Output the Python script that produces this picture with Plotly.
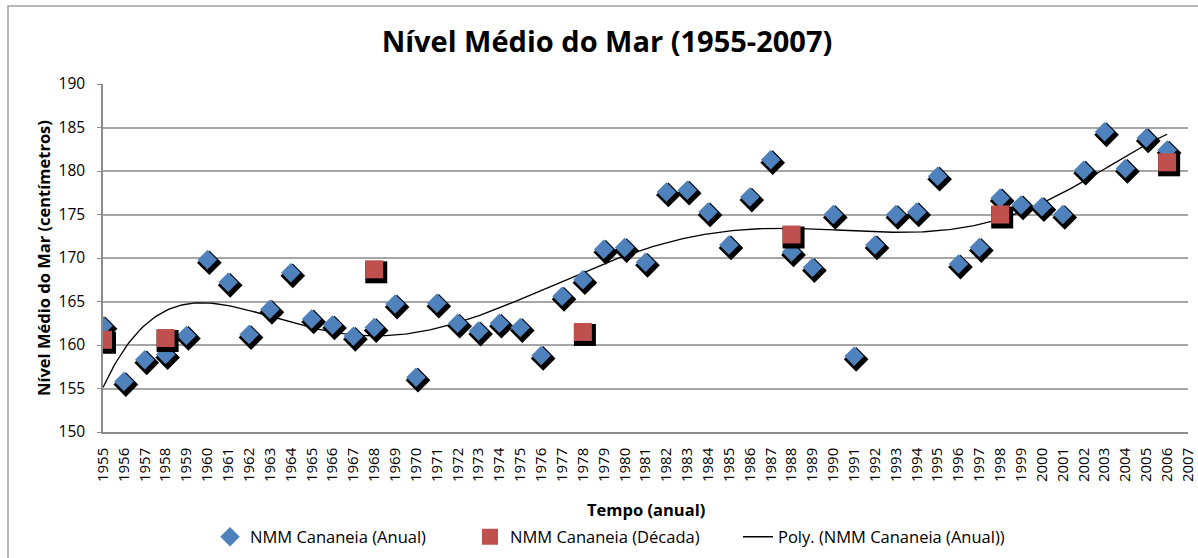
import numpy as np
import plotly.graph_objects as go

# ---------------- data ----------------
years = list(range(1955, 2007))
nmm_anual = [162.2, 155.8, 158.3, 158.9, 161.1, 169.8, 167.2, 161.2, 164.1, 168.3,
             163.0, 162.3, 161.0, 162.0, 164.7, 156.3, 164.8, 162.5, 161.6, 162.5,
             162.0, 158.8, 165.6, 167.5, 171.0, 171.2, 169.5, 177.6, 177.8, 175.3,
             171.5, 177.0, 181.3, 170.7, 168.9, 175.0, 158.7, 171.5, 175.0, 175.3,
             179.4, 169.3, 171.2, 176.9, 176.1, 175.9, 175.0, 180.1, 184.5, 180.3,
             183.8, 182.4]
decada_years = [1955, 1958, 1968, 1978, 1988, 1998, 2006]
nmm_decada = [160.6, 160.8, 168.7, 161.5, 172.7, 175.0, 181.0]
tick_years = list(range(1955, 2008))

# polynomial trendline (Excel "Poly." trendline) fitted to the annual series
t = np.array(years, dtype=float) - 1980.0
coef = np.polyfit(t, np.array(nmm_anual), 6)
t_fine = np.linspace(t[0], t[-1], 400)
poly_y = np.polyval(coef, t_fine)
poly_x = t_fine + 1980.0

# ---------------- layout geometry ----------------
W, H = 1198, 558
ml, mr, mt, mb = 103, 10, 84, 126
pw, ph = W - ml - mr, H - mt - mb
xr = [1955, 2007]
yr = [150, 190]
ux = (xr[1] - xr[0]) / pw
uy = (yr[1] - yr[0]) / ph
sdx, sdy = 2.0, 3.0  # shadow offset in px
xr_sh = [xr[0] - sdx * ux, xr[1] - sdx * ux]
yr_sh = [yr[0] + sdy * uy, yr[1] + sdy * uy]

def px_x(p):
    return (p - ml) / pw

def px_y(p):
    return (mt + ph - p) / ph

FONT = "Open Sans"
BLUE = "#4F81BD"
RED = "#C0504D"

fig = go.Figure()

# trendline
fig.add_trace(go.Scatter(x=poly_x, y=poly_y, mode="lines",
                         line=dict(color="black", width=1.3),
                         name="Poly. (NMM Cananeia (Anual))",
                         xaxis="x", yaxis="y", legend="legend3"))
# diamond shadows
fig.add_trace(go.Scatter(x=years, y=nmm_anual, mode="markers",
                         marker=dict(symbol="diamond", size=19, color="black"),
                         showlegend=False, hoverinfo="skip", xaxis="x2", yaxis="y2"))
# blue diamonds
fig.add_trace(go.Scatter(x=years, y=nmm_anual, mode="markers",
                         marker=dict(symbol="diamond", size=15, color=BLUE),
                         name="NMM Cananeia (Anual)", xaxis="x3", yaxis="y3", legend="legend"))
# square shadows
fig.add_trace(go.Scatter(x=decada_years, y=nmm_decada, mode="markers",
                         marker=dict(symbol="square", size=22, color="black"),
                         showlegend=False, hoverinfo="skip", xaxis="x4", yaxis="y4"))
# red squares
fig.add_trace(go.Scatter(x=decada_years, y=nmm_decada, mode="markers",
                         marker=dict(symbol="square", size=18, color=RED),
                         name="NMM Cananeia (Década)", xaxis="x5", yaxis="y5", legend="legend2"))

hidden = dict(visible=False, showgrid=False, zeroline=False, fixedrange=True)
legfont = dict(size=16.5, family=FONT, color="black")
legy = px_y(537)

def leg(x_px):
    return dict(orientation="h", x=px_x(x_px), xanchor="left", y=legy, yanchor="middle",
                font=legfont, itemsizing="trace", bgcolor="rgba(0,0,0,0)")

fig.update_layout(
    width=W, height=H,
    margin=dict(l=ml, r=mr, t=mt, b=mb, autoexpand=False),
    paper_bgcolor="white", plot_bgcolor="white",
    font=dict(family=FONT, color="black"),
    title=dict(text="<b>Nível Médio do Mar (1955-2007)</b>",
               x=607 / W, xanchor="center", y=1 - 42 / H, yanchor="middle",
               font=dict(size=29, family=FONT, color="black")),
    xaxis=dict(range=xr, tickmode="array", tickvals=tick_years,
               ticktext=[str(v) for v in tick_years], tickangle=-90,
               tickfont=dict(size=15, family=FONT, color="black"),
               showgrid=False, zeroline=False, showline=True, automargin=False,
               linecolor="#8c8c8c", linewidth=1.5, ticks="", ticklabelstandoff=8),
    yaxis=dict(range=yr, tickmode="linear", tick0=150, dtick=5, automargin=False,
               tickfont=dict(size=15.5, family=FONT, color="black"),
               showgrid=True, gridcolor="#a6a6a6", gridwidth=1.5,
               zeroline=False, showline=True, linecolor="#8c8c8c", linewidth=1.5,
               ticks="outside", ticklen=4, tickcolor="#8c8c8c", ticklabelstandoff=9),
    xaxis2=dict(overlaying="x", range=xr_sh, **hidden),
    yaxis2=dict(overlaying="y", range=yr_sh, **hidden),
    xaxis3=dict(overlaying="x", range=xr, **hidden),
    yaxis3=dict(overlaying="y", range=yr, **hidden),
    xaxis4=dict(overlaying="x", range=xr_sh, **hidden),
    yaxis4=dict(overlaying="y", range=yr_sh, **hidden),
    xaxis5=dict(overlaying="x", range=xr, **hidden),
    yaxis5=dict(overlaying="y", range=yr, **hidden),
    legend=leg(210),
    legend2=leg(470),
    legend3=leg(738),
    annotations=[
        dict(text="<b>Nível Médio do Mar (centímetros)</b>", xref="paper", yref="paper",
             x=px_x(43), y=px_y(258), xanchor="center", yanchor="middle", textangle=-90,
             showarrow=False, font=dict(size=16.5, family=FONT, color="black")),
        dict(text="<b>Tempo (anual)</b>", xref="paper", yref="paper",
             x=px_x(646), y=px_y(509), xanchor="center", yanchor="middle",
             showarrow=False, font=dict(size=16.5, family=FONT, color="black")),
    ],
    shapes=[dict(type="rect", xref="paper", yref="paper",
                 x0=px_x(8), x1=px_x(1230), y0=px_y(600), y1=px_y(6),
                 line=dict(color="#a0a0a0", width=1.5), fillcolor="rgba(0,0,0,0)", layer="below")],
)

fig.write_html("out.html", config={"displayModeBar": False},
               post_script="document.body.style.margin='0';document.body.style.padding='0';"
                           "document.body.style.overflow='hidden';")
